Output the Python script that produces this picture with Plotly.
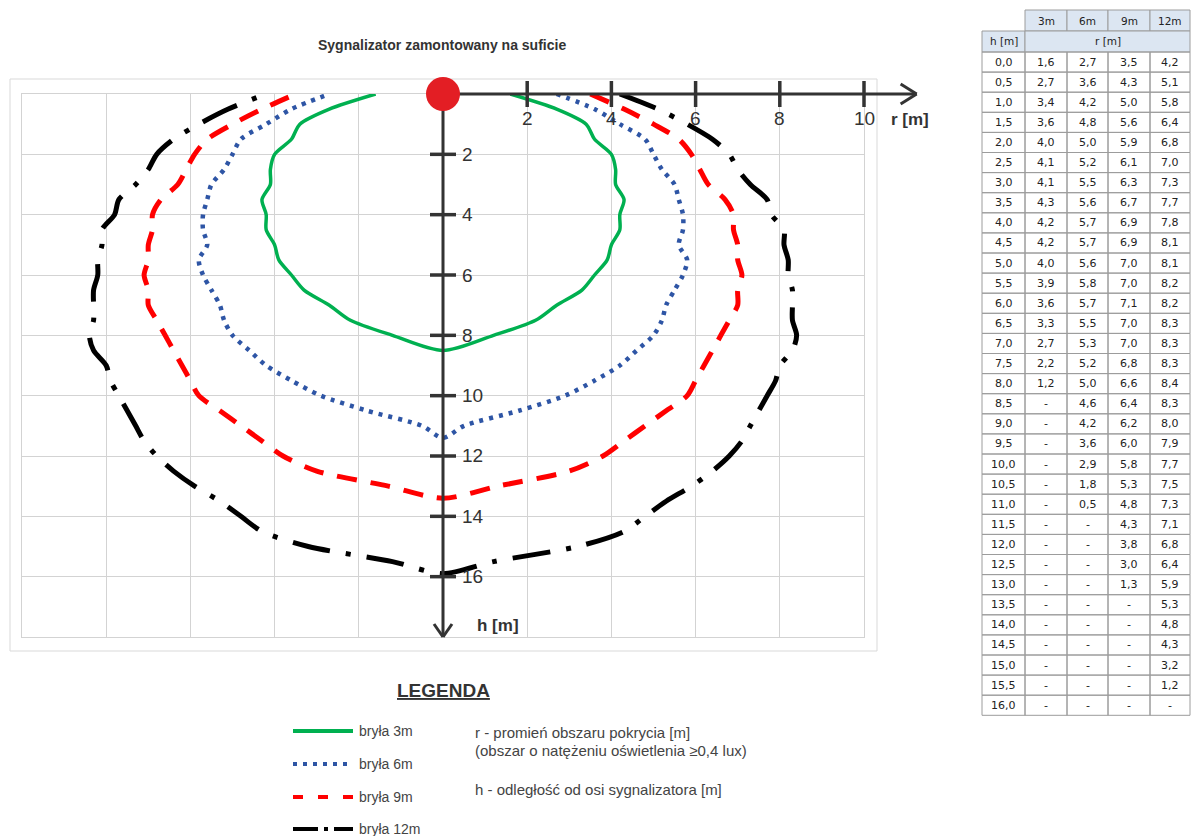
import plotly.graph_objects as go

W, H = 1191, 836

h_values = [0.0, 0.5, 1.0, 1.5, 2.0, 2.5, 3.0, 3.5, 4.0, 4.5, 5.0, 5.5, 6.0, 6.5, 7.0, 7.5,
            8.0, 8.5, 9.0, 9.5, 10.0, 10.5, 11.0, 11.5, 12.0, 12.5, 13.0, 13.5, 14.0, 14.5,
            15.0, 15.5, 16.0]
r_3m = [1.6, 2.7, 3.4, 3.6, 4.0, 4.1, 4.1, 4.3, 4.2, 4.2, 4.0, 3.9, 3.6, 3.3, 2.7, 2.2,
        1.2, None, None, None, None, None, None, None, None, None, None, None, None, None,
        None, None, None]
r_6m = [2.7, 3.6, 4.2, 4.8, 5.0, 5.2, 5.5, 5.6, 5.7, 5.7, 5.6, 5.8, 5.7, 5.5, 5.3, 5.2,
        5.0, 4.6, 4.2, 3.6, 2.9, 1.8, 0.5, None, None, None, None, None, None, None,
        None, None, None]
r_9m = [3.5, 4.3, 5.0, 5.6, 5.9, 6.1, 6.3, 6.7, 6.9, 6.9, 7.0, 7.0, 7.1, 7.0, 7.0, 6.8,
        6.6, 6.4, 6.2, 6.0, 5.8, 5.3, 4.8, 4.3, 3.8, 3.0, 1.3, None, None, None,
        None, None, None]
r_12m = [4.2, 5.1, 5.8, 6.4, 6.8, 7.0, 7.3, 7.7, 7.8, 8.1, 8.1, 8.2, 8.2, 8.3, 8.3, 8.3,
         8.4, 8.3, 8.0, 7.9, 7.7, 7.5, 7.3, 7.1, 6.8, 6.4, 5.9, 5.3, 4.8, 4.3,
         3.2, 1.2, None]
# depth where each curve closes on the axis
apex_h = [8.5, 11.4, 13.4, 15.9]

series_names = ["bryła 3m", "bryła 6m", "bryła 9m", "bryła 12m"]
table_cols = ["3m", "6m", "9m", "12m"]
x_tick_labels = [2, 4, 6, 8, 10]
y_tick_labels = [2, 4, 6, 8, 10, 12, 14, 16]

title_text = "Sygnalizator zamontowany na suficie"
legend_title = "LEGENDA"
note_r = "r - promień obszaru pokrycia [m]"
note_r2 = "(obszar o natężeniu oświetlenia ≥0,4 lux)"
note_h = "h - odległość od osi sygnalizatora [m]"

# ---------------- styles ----------------
colors = ["#00B050", "#2E55A5", "#FF0000", "#000000"]
widths = [3.5, 4.5, 5, 5]
dashes = ["solid", "4px,6px", "20px,14px", "38px,16px,5px,16px"]
legend_dashes = ["solid", "4px,6px", "10px,15px", "25px,6px,4px,6px"]

NARROW = "Liberation Sans Narrow, Arial Narrow, Liberation Sans, Arial, sans-serif"
ARIAL = "Liberation Sans, Arial, sans-serif"
TABF = "DejaVu Sans, Verdana, sans-serif"
AXC = "#333333"

# plot geometry (pixels)
X_DOM = (22 / W, 864 / W)
Y_DOM = (1 - 637 / H, 1 - 94 / H)
X_RANGE = (-10, 10)
Y_MAX = 18


def xp(x):
    return X_DOM[0] + (x - X_RANGE[0]) / (X_RANGE[1] - X_RANGE[0]) * (X_DOM[1] - X_DOM[0])


def yp(y):
    return Y_DOM[1] - y / Y_MAX * (Y_DOM[1] - Y_DOM[0])


fig = go.Figure()

# ---------------- curves ----------------
series = [r_3m, r_6m, r_9m, r_12m]
for name, rs, ah, c, w, d in zip(series_names, series, apex_h, colors, widths, dashes):
    pts = [(r, h) for r, h in zip(rs, h_values) if r is not None]
    xs = [r for r, h in pts] + [0] + [-r for r, h in reversed(pts)]
    ys = [h for r, h in pts] + [ah] + [h for r, h in reversed(pts)]
    fig.add_trace(go.Scatter(
        x=xs, y=ys, mode="lines", name=name, showlegend=False,
        line=dict(color=c, width=w, dash=d, shape="spline", smoothing=0.8),
        hoverinfo="skip"))

shapes = []
annotations = []


def pline(x0, y0, x1, y1, color, width, dash="solid"):
    shapes.append(dict(type="line", xref="paper", yref="paper", x0=x0, y0=y0, x1=x1, y1=y1,
                       line=dict(color=color, width=width, dash=dash), layer="above"))


def text(x, y, t, size, color="#333333", family=ARIAL, xanchor="center", yanchor="middle"):
    annotations.append(dict(xref="paper", yref="paper", x=x, y=y, text=t, showarrow=False,
                            xanchor=xanchor, yanchor=yanchor,
                            font=dict(size=size, color=color, family=family)))


# outer chart frame
shapes.append(dict(type="rect", xref="paper", yref="paper", x0=10 / W, x1=877 / W,
                   y0=1 - 651 / H, y1=1 - 79 / H, line=dict(color="#D9D9D9", width=1),
                   layer="below"))

# ---------------- axes with arrows ----------------
ox, oy = xp(0), yp(0)
x_tip = xp(11.25)
pline(ox, oy, x_tip, oy, AXC, 3)
pline(x_tip - 16 / W, oy + 10 / H, x_tip, oy, AXC, 3)
pline(x_tip - 16 / W, oy - 10 / H, x_tip, oy, AXC, 3)
y_tip = yp(Y_MAX)
pline(ox, oy, ox, y_tip, AXC, 3)
pline(ox - 9 / W, y_tip + 13 / H, ox, y_tip, AXC, 3)
pline(ox + 9 / W, y_tip + 13 / H, ox, y_tip, AXC, 3)

for t in x_tick_labels:
    pline(xp(t), oy + 13 / H, xp(t), oy - 13 / H, AXC, 3.5)
    text(xp(t), oy - 25 / H, str(t), 19, AXC, NARROW)
for t in y_tick_labels:
    pline(ox - 13 / W, yp(t), ox + 13 / W, yp(t), AXC, 3.5)
    text(ox + 17 / W, yp(t), str(t), 19, AXC, NARROW, xanchor="left")

text(910 / W, 1 - 119 / H, "<b>r [m]</b>", 17, AXC)
text(498 / W, 1 - 625 / H, "<b>h [m]</b>", 17, AXC)

# origin marker
R = 17
shapes.append(dict(type="circle", xref="paper", yref="paper",
                   x0=ox - R / W, x1=ox + R / W, y0=oy - R / H, y1=oy + R / H,
                   fillcolor="#E31E24", line=dict(color="#E31E24", width=0), layer="above"))

# title
text(442 / W, 1 - 45 / H, "<b>" + title_text + "</b>", 14, "#333333")

# ---------------- legend ----------------
text(443 / W, 1 - 690 / H, "<b><u>" + legend_title + "</u></b>", 19, "#333333")
leg_y = [731, 764, 797, 829]
for name, c, d, ly in zip(series_names, colors, legend_dashes, leg_y):
    pline(293 / W, 1 - ly / H, 353 / W, 1 - ly / H, c, 4, d)
    text(357 / W, 1 - ly / H, name, 14, "#444444", ARIAL, xanchor="left")
text(473 / W, 1 - 732 / H, note_r, 15, "#444444", ARIAL, xanchor="left")
text(473 / W, 1 - 750 / H, note_r2, 15, "#444444", ARIAL, xanchor="left")
text(473 / W, 1 - 789 / H, note_h, 15, "#444444", ARIAL, xanchor="left")

# ---------------- table ----------------
col_x = [982, 1025, 1067, 1108, 1150, 1190]
hdr1 = (10, 31)
hdr2 = (31, 52)
row_top = 52
row_h = 20.1
HDR_FILL = "#DCE6F2"
BORDER = "#9C9C9C"


def rect(x0, y0, x1, y1, fill=None):
    shapes.append(dict(type="rect", xref="paper", yref="paper",
                       x0=x0 / W, x1=x1 / W, y0=1 - y1 / H, y1=1 - y0 / H,
                       fillcolor=fill if fill else "rgba(0,0,0,0)",
                       line=dict(color=BORDER, width=1), layer="above"))


# header row 1
for i, lab in enumerate(table_cols):
    rect(col_x[i + 1], hdr1[0], col_x[i + 2], hdr1[1], HDR_FILL)
    text((col_x[i + 1] + col_x[i + 2]) / 2 / W, 1 - (hdr1[0] + hdr1[1]) / 2 / H, lab, 10.5, "#222222", TABF)
# header row 2
rect(col_x[0], hdr2[0], col_x[1], hdr2[1], HDR_FILL)
text((col_x[0] + col_x[1]) / 2 / W, 1 - (hdr2[0] + hdr2[1]) / 2 / H, "h [m]", 10.5, "#222222", TABF)
rect(col_x[1], hdr2[0], col_x[5], hdr2[1], HDR_FILL)
text((col_x[1] + col_x[5]) / 2 / W, 1 - (hdr2[0] + hdr2[1]) / 2 / H, "r [m]", 10.5, "#222222", TABF)


def fmt(v):
    return "-" if v is None else f"{v:.1f}".replace(".", ",")


for k, hv in enumerate(h_values):
    y0 = row_top + k * row_h
    y1 = y0 + row_h
    yc = 1 - (y0 + y1) / 2 / H
    vals = [hv] + [s[k] for s in series]
    for j, v in enumerate(vals):
        rect(col_x[j], y0, col_x[j + 1], y1)
        text((col_x[j] + col_x[j + 1]) / 2 / W, yc, fmt(v), 11, "#222222", TABF)

# ---------------- layout ----------------
fig.update_layout(
    width=W, height=H,
    margin=dict(l=0, r=0, t=0, b=0),
    paper_bgcolor="white", plot_bgcolor="white",
    showlegend=False,
    shapes=shapes, annotations=annotations,
    xaxis=dict(domain=list(X_DOM), range=list(X_RANGE), tickvals=list(range(-10, 11, 2)),
               showticklabels=False, ticks="", showgrid=True, gridcolor="#D3D3D3", gridwidth=1,
               zeroline=False, showline=True, linecolor="#D3D3D3", linewidth=1, mirror=True,
               fixedrange=True),
    yaxis=dict(domain=list(Y_DOM), range=[Y_MAX, 0], tickvals=list(range(0, 19, 2)),
               showticklabels=False, ticks="", showgrid=True, gridcolor="#D3D3D3", gridwidth=1,
               zeroline=False, showline=True, linecolor="#D3D3D3", linewidth=1, mirror=True,
               fixedrange=True),
)

fig.write_html("out.html", config={"displayModeBar": False},
               post_script="document.body.style.margin='0px';document.body.style.overflow='hidden';")
